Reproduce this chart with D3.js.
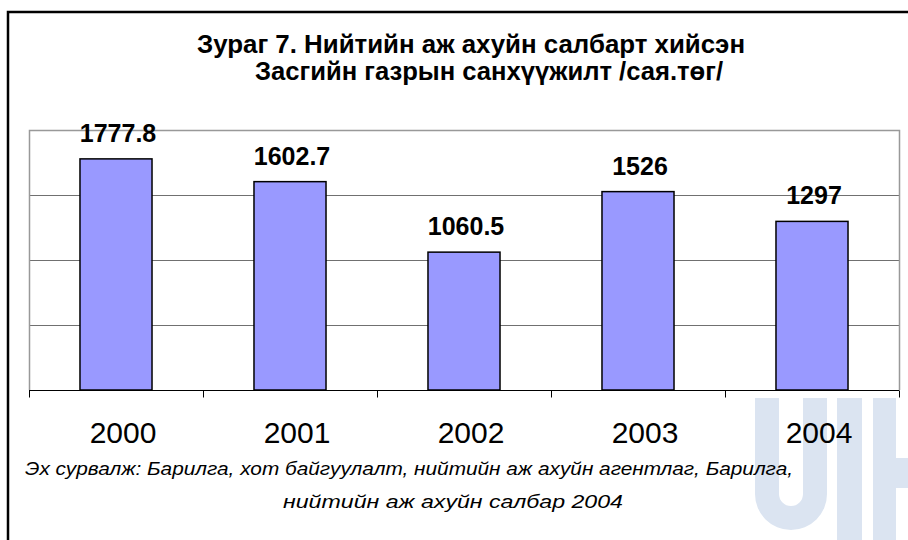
<!DOCTYPE html>
<html>
<head>
<meta charset="utf-8">
<script src="https://cdn.jsdelivr.net/npm/d3@7"></script>
<style>
  body { margin: 0; background: #fff; }
  text { font-family: "Liberation Sans", Arial, sans-serif; }
</style>
</head>
<body>
<script>
var w = 908,
    h = 540;

// chart data
var years = ["2000", "2001", "2002", "2003", "2004"];
var values = [1777.8, 1602.7, 1060.5, 1526, 1297];
var valueLabels = ["1777.8", "1602.7", "1060.5", "1526", "1297"];
var gridTicks = [500, 1000, 1500];

var titleLines = [
  "Зураг 7. Нийтийн аж ахуйн салбарт хийсэн",
  "Засгийн газрын санхүүжилт /сая.төг/"
];
var sourceLines = [
  "Эх сурвалж: Барилга, хот байгуулалт, нийтийн аж ахуйн агентлаг, Барилга,",
  "нийтийн аж ахуйн салбар 2004"
];

// plot area (note: "top" is reserved on window, so use prefixed names)
var plotLeft = 29, plotRight = 899, plotTop = 130, plotBottom = 390;

var svg = d3.select("body").append("svg")
  .attr("width", w)
  .attr("height", h);

svg.append("rect").attr("width", w).attr("height", h).attr("fill", "#fff");

// faint logo watermark in the lower right corner
var mark = svg.append("g").attr("fill", "#dbe4f1");
mark.append("path")
  .attr("d", "M755,398 V494 A36,36 0 0 0 827,494 V398 H803 V494 A12,12 0 0 1 779,494 V398 Z");
mark.append("rect").attr("x", 837).attr("y", 398).attr("width", 25).attr("height", 142);
mark.append("rect").attr("x", 873).attr("y", 398).attr("width", 23).attr("height", 142);
mark.append("rect").attr("x", 896).attr("y", 458).attr("width", 12).attr("height", 30);

// outer frame (only top and left edges are in view)
svg.append("rect")
  .attr("x", 8).attr("y", 12)
  .attr("width", w + 20).attr("height", h + 20)
  .attr("fill", "none")
  .attr("stroke", "#000")
  .attr("stroke-width", 2.5);

var x = d3.scaleBand()
  .domain(years)
  .range([plotLeft, plotRight]);

var y = d3.scaleLinear()
  .domain([0, 2000])
  .range([plotBottom, plotTop]);

// gridlines
svg.append("g")
  .selectAll("line")
  .data(gridTicks)
  .join("line")
  .attr("x1", plotLeft).attr("x2", plotRight)
  .attr("y1", function(d) { return Math.round(y(d)) + 0.5; })
  .attr("y2", function(d) { return Math.round(y(d)) + 0.5; })
  .attr("stroke", "#707070")
  .attr("stroke-width", 1.2);

// plot border (gray)
svg.append("path")
  .attr("d", "M" + (plotLeft + 0.5) + "," + plotBottom + " V" + (plotTop + 0.5) +
             " H" + (plotRight + 0.5) + " V" + plotBottom)
  .attr("fill", "none")
  .attr("stroke", "#999")
  .attr("stroke-width", 1.5);

// bars
var barW = x.bandwidth() * 0.414;
svg.append("g")
  .selectAll("rect")
  .data(values)
  .join("rect")
  .attr("x", function(d, i) { return x(years[i]) + (x.bandwidth() - barW) / 2; })
  .attr("y", function(d) { return y(d); })
  .attr("width", barW)
  .attr("height", function(d) { return y(0) - y(d); })
  .attr("fill", "#9999ff")
  .attr("stroke", "#000")
  .attr("stroke-width", 1.5);

// x axis
var xAxis = svg.append("g")
  .attr("transform", "translate(0," + (plotBottom + 0.5) + ")");
xAxis.append("line")
  .attr("x1", plotLeft).attr("x2", plotRight)
  .attr("stroke", "#000")
  .attr("stroke-width", 1.2);
xAxis.selectAll("line.tick")
  .data(years.concat(["end"]))
  .join("line")
  .attr("class", "tick")
  .attr("x1", function(d, i) { return plotLeft + i * x.step() + 0.5; })
  .attr("x2", function(d, i) { return plotLeft + i * x.step() + 0.5; })
  .attr("y1", 0).attr("y2", 7)
  .attr("stroke", "#000");

svg.append("g")
  .selectAll("text")
  .data(years)
  .join("text")
  .attr("x", function(d) { return x(d) + x.bandwidth() / 2 + 7; })
  .attr("y", 443)
  .attr("text-anchor", "middle")
  .attr("font-size", 30)
  .text(function(d) { return d; });

// value labels
svg.append("g")
  .selectAll("text")
  .data(values)
  .join("text")
  .attr("x", function(d, i) { return x(years[i]) + x.bandwidth() / 2 + 2; })
  .attr("y", function(d) { return y(d) - 17; })
  .attr("text-anchor", "middle")
  .attr("font-size", 25)
  .attr("font-weight", "bold")
  .text(function(d, i) { return valueLabels[i]; });

// title
var titlePos = [[197, 53, 548], [255, 80, 468]];
svg.append("g")
  .selectAll("text")
  .data(titleLines)
  .join("text")
  .attr("x", function(d, i) { return titlePos[i][0]; })
  .attr("y", function(d, i) { return titlePos[i][1]; })
  .attr("textLength", function(d, i) { return titlePos[i][2]; })
  .attr("lengthAdjust", "spacingAndGlyphs")
  .attr("font-size", 25)
  .attr("font-weight", "bold")
  .text(function(d) { return d; });

// source note
var sourcePos = [[25, 475, 768], [283, 508, 340]];
svg.append("g")
  .selectAll("text")
  .data(sourceLines)
  .join("text")
  .attr("x", function(d, i) { return sourcePos[i][0]; })
  .attr("y", function(d, i) { return sourcePos[i][1]; })
  .attr("textLength", function(d, i) { return sourcePos[i][2]; })
  .attr("lengthAdjust", "spacingAndGlyphs")
  .attr("font-size", 19)
  .attr("font-style", "italic")
  .text(function(d) { return d; });
</script>
</body>
</html>
